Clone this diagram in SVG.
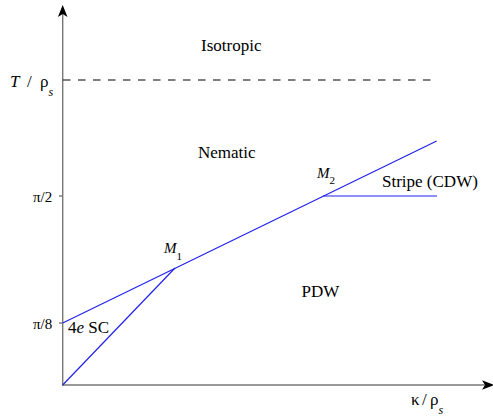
<svg xmlns="http://www.w3.org/2000/svg" width="493" height="419" viewBox="0 0 493 419" font-family="'Liberation Serif', 'DejaVu Serif', 'Times New Roman', serif">
<style>
text{font-family:'Liberation Serif','DejaVu Serif','Times New Roman',serif;fill:#000}
.lbl{font-size:17px}
.tick{font-size:15px}
.it{font-style:italic}
.axis{stroke:#777;stroke-width:1.4;fill:none}
.blue{stroke:#2222ee;stroke-width:1.2;fill:none}
.arr{fill:#000}
</style>
<rect width="493" height="419" fill="#fff"/>
<g id="connectors">
<line class="axis" x1="62.7" y1="386" x2="62.7" y2="12"/>
<path class="arr" d="M62.7 5 L67.5 17 L62.7 14 L57.9 17 Z"/>
<line class="axis" x1="62" y1="385" x2="488" y2="385"/>
<path class="arr" d="M494 385 L482 380.2 L485 385 L482 389.8 Z"/>
<line class="axis" x1="59" y1="196" x2="63" y2="196"/>
<line class="axis" x1="59" y1="323" x2="63" y2="323"/>
<line x1="63" y1="80" x2="431" y2="80" stroke="#000" stroke-width="1.2" stroke-dasharray="7.5,7.5"/>
<polyline class="blue" points="62.7,323 436.7,141"/>
<polyline class="blue" points="62.7,385 175,268"/>
<polyline class="blue" points="323,196 437,196"/>
</g>
<g id="axis-labels">
<text class="lbl" y="87"><tspan x="10" class="it">T</tspan><tspan x="27">/</tspan><tspan x="40">ρ</tspan><tspan class="it" font-size="12" dy="9">s</tspan></text>
<text class="lbl" y="405"><tspan x="411">κ</tspan><tspan x="422">/</tspan><tspan x="430">ρ</tspan><tspan class="it" font-size="12" dy="9">s</tspan></text>
<text class="tick" x="33" y="201.5">π/2</text>
<text class="tick" x="33" y="328.5">π/8</text>
</g>
<g id="isotropic"><text class="lbl" x="201" y="51">Isotropic</text></g>
<g id="nematic"><text class="lbl" x="198" y="158">Nematic</text></g>
<g id="pdw"><text class="lbl" x="301.5" y="297">PDW</text></g>
<g id="sc4e"><text class="lbl" x="68" y="333">4<tspan class="it">e</tspan> SC</text></g>
<g id="stripe"><text class="lbl" x="382" y="187">Stripe (CDW)</text></g>
<g id="m1"><text x="164" y="252.5" font-size="15"><tspan class="it">M</tspan><tspan font-size="11" dy="7.5">1</tspan></text></g>
<g id="m2"><text x="317" y="177.5" font-size="15"><tspan class="it">M</tspan><tspan font-size="11" dy="6">2</tspan></text></g>
</svg>
